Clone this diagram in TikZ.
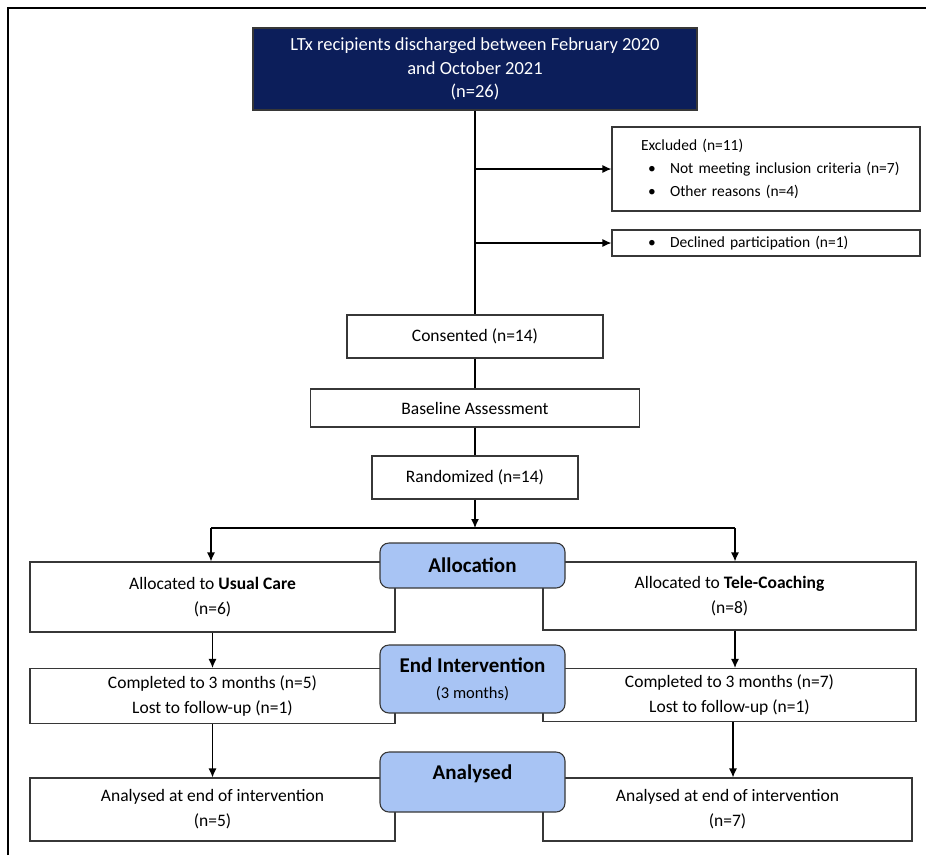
\documentclass[tikz,border=0pt]{standalone}
\usepackage{fontspec}
\setmainfont{Carlito}
\usetikzlibrary{arrows.meta}
\definecolor{navy}{RGB}{12,30,90}
\definecolor{lblue}{RGB}{168,196,244}
\definecolor{edge}{RGB}{55,55,55}
\begin{document}
\begin{tikzpicture}[x=1pt,y=-1pt,
  box/.style={draw=edge, line width=1.1pt, fill=white, inner sep=0pt, align=center,
              font=\fontsize{17.5}{25}\selectfont},
  sidebox/.style={box, align=left, text width=308pt, minimum width=308pt,
              font=\fontsize{15.5}{23}\selectfont},
  phase/.style={draw=edge, line width=1.1pt, fill=lblue, rounded corners=9pt, inner sep=0pt,
              align=center, minimum width=185pt},
  ln/.style={line width=1.2pt, draw=black},
  arr/.style={ln, -{Latex[length=9pt,width=8pt]}}]
\useasboundingbox (0,0) rectangle (926,855);
% frame
\coordinate (f1) at (8,855);
\coordinate (f2) at (8,8);
\coordinate (f3) at (926,8);
\draw[line width=2pt] (f1) -- (f2) -- (f3);

% top part
\node[box, fill=navy, draw=edge, text=white, minimum width=444pt, minimum height=82pt,
      font=\fontsize{18.5}{23.5}\selectfont] (top) at (475,69)
  {LTx recipients discharged between February 2020\\ and October 2021\\ (n=26)};
\node[sidebox, minimum height=84pt] (excl) at (766,169)
  {\hspace*{29pt}Excluded (n=11)\\
   \hspace*{36pt}\makebox[22pt][l]{\textbullet}\mbox{Not meeting inclusion criteria (n=7)}\\
   \hspace*{36pt}\makebox[22pt][l]{\textbullet}Other reasons (n=4)};
\node[sidebox, minimum height=26pt] (decl) at (766,243)
  {\hspace*{36pt}\makebox[22pt][l]{\textbullet}Declined participation (n=1)};
\node[box, minimum width=256pt, minimum height=43pt] (cons) at (475,336.5) {Consented (n=14)};
\node[box, minimum width=329pt, minimum height=38pt] (base) at (475,408) {Baseline Assessment};
\node[box, minimum width=206pt, minimum height=43pt] (rand) at (475,477.5) {Randomized (n=14)};

\draw[ln] (top.south) -- (cons.north);
\draw[arr] (top.south |- excl.west) -- (excl.west);
\draw[arr] (top.south |- decl.west) -- (decl.west);
\draw[ln] (cons.south) -- (base.north);
\draw[ln] (base.south) -- (rand.north);

\coordinate (sM) at (475,528);
\coordinate (sL) at (211,528);
\coordinate (sR) at (735,528);
\draw[arr] (rand.south) -- (sM);
\draw[ln] (sL) -- (sR);

% side boxes
\node[box, minimum width=365pt, minimum height=70pt] (uc) at (212.5,597)
  {Allocated to \textbf{Usual Care}\\ (n=6)};
\node[box, minimum width=373pt, minimum height=68pt] (tc) at (729.5,596)
  {Allocated to \textbf{Tele-Coaching}\\ (n=8)};
\node[box, minimum width=365pt, minimum height=55pt] (comp1) at (212.5,696)
  {Completed to 3 months (n=5)\\ Lost to follow-up (n=1)};
\node[box, minimum width=373pt, minimum height=53pt] (comp2) at (729.5,695)
  {Completed to 3 months (n=7)\\ Lost to follow-up (n=1)};
\node[box, minimum width=365pt, minimum height=63pt] (an1) at (212.5,809.5)
  {Analysed at end of intervention\\ (n=5)};
\node[box, minimum width=369pt, minimum height=63pt] (an2) at (727.5,809.5)
  {Analysed at end of intervention\\ (n=7)};

% phase labels
\node[phase, minimum height=45pt, font=\fontsize{21}{25}\selectfont\bfseries] (alloc) at (472.5,565.5) {Allocation};
\node[phase, minimum height=68pt, font=\fontsize{21}{25}\selectfont\bfseries] (endi) at (472.5,679)
  {End Intervention\\[1pt]
   {\fontsize{16.5}{20}\selectfont\mdseries (3 months)}};
\node[phase, minimum height=60pt, font=\fontsize{21}{25}\selectfont\bfseries] (anal) at (472.5,782) {Analysed\\[-6pt]\mbox{}};

% arrows
\draw[arr] (sL) -- (sL |- uc.north);
\draw[arr] (sR) -- (sR |- tc.north);
\draw[arr] (uc.south) -- (comp1.north);
\draw[arr] (tc.south -| sR) -- (comp2.north -| sR);
\draw[arr] (comp1.south) -- (an1.north);
\draw[arr] ([xshift=-2pt]comp2.south -| sR) -- ([xshift=-2pt]an2.north -| sR);
\end{tikzpicture}
\end{document}
